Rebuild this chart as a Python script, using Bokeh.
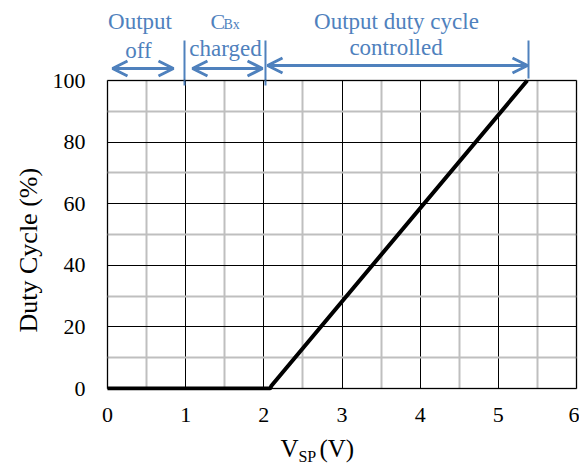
from bokeh.plotting import figure
from bokeh.layouts import column
from bokeh.models import Label, Arrow, OpenHead, FixedTicker, Range1d, BoxAnnotation, Title
from bokeh.embed import file_html
from bokeh.resources import INLINE

# ---------------- data ----------------
vsp = [0, 2.08, 2.1, 5.37]
duty = [0, 0, 1, 100]

x_ticks = [0, 1, 2, 3, 4, 5, 6]
x_minor = [0.5, 1.5, 2.5, 3.5, 4.5, 5.5]
y_ticks = [0, 20, 40, 60, 80, 100]
y_minor = [10, 30, 50, 70, 90]

# region annotations (V_SP positions)
region_start = [0.064, 1.087, 2.047]
region_end = [0.844, 1.983, 5.373]
boundaries = [0.985, 2.021, 5.386]

BLUE = "#4f81bd"
FONT = "Liberation Serif"

x_range = Range1d(-0.0256, 6.0255)

p = figure(width=579, height=430, output_backend="svg", toolbar_location=None,
           x_range=x_range, y_range=Range1d(-0.649, 125.974),
           min_border_left=105, min_border_right=1, min_border_top=0, min_border_bottom=40)

p.outline_line_color = None

for ax in (p.xaxis[0], p.yaxis[0]):
    ax.axis_line_color = None
    ax.major_tick_line_color = None
    ax.minor_tick_line_color = None
    ax.major_tick_in = 0
    ax.major_tick_out = 0
    ax.minor_tick_in = 0
    ax.minor_tick_out = 0
    ax.major_label_text_font = FONT
    ax.major_label_text_font_size = "22px"
    ax.major_label_text_color = "black"

p.xaxis.ticker = FixedTicker(ticks=x_ticks, minor_ticks=x_minor)
p.yaxis.ticker = FixedTicker(ticks=y_ticks, minor_ticks=y_minor)
p.yaxis.bounds = (0, 100)
p.xaxis.major_label_standoff = 17
p.yaxis.major_label_standoff = 20

p.add_layout(Title(text="Duty Cycle (%)", align="left", offset=58, text_font=FONT,
                   text_font_size="26px", text_font_style="normal", text_color="black",
                   standoff=14), "left")

p.xgrid.cross_bounds = (0, 100)
p.ygrid.cross_bounds = (0, 6)
for g in (p.xgrid[0], p.ygrid[0]):
    g.grid_line_color = "black"
    g.grid_line_width = 1
    g.minor_grid_line_color = "#bfbfbf"
    g.minor_grid_line_width = 2

p.add_layout(BoxAnnotation(left=0, right=6, bottom=0, top=100, fill_color=None,
                           line_color="black", line_width=2))

p.line(vsp, duty, line_color="black", line_width=4)

# region boundary lines
p.segment(x0=boundaries, y0=[98.4, 98.4, 100.65], x1=boundaries, y1=[113, 113, 113],
          line_color=BLUE, line_width=2)

arrow_y = [103.9, 103.9, 104.87]
for s, e, yy in zip(region_start, region_end, arrow_y):
    p.add_layout(Arrow(start=OpenHead(size=15, line_color=BLUE, line_width=3),
                       end=OpenHead(size=15, line_color=BLUE, line_width=3),
                       x_start=s, y_start=yy, x_end=e, y_end=yy,
                       line_color=BLUE, line_width=3))

def lab(fig, x, y, t, size="23px", align="center", color=BLUE):
    fig.add_layout(Label(x=x, y=y, text=t, text_font=FONT, text_font_size=size,
                         text_color=color, text_baseline="alphabetic", text_align=align))

lab(p, 0.416, 119.25, "Output")
lab(p, 0.397, 109.84, "off")
lab(p, 1.318, 119.16, "C", size="22px", align="left")
lab(p, 1.484, 118.28, "Bx", size="14px", align="left")
lab(p, 1.51, 110.49, "charged")
lab(p, 3.697, 119.25, "Output duty cycle")
lab(p, 3.691, 110.65, "controlled")

# bottom strip for the x-axis label with subscript
s = figure(width=579, height=35, output_backend="svg", toolbar_location=None,
           x_range=x_range, y_range=Range1d(0, 35),
           min_border_left=105, min_border_right=1, min_border_top=0, min_border_bottom=0,
           x_axis_location=None, y_axis_location=None)
s.outline_line_color = None
s.grid.visible = False
lab(s, 2.213, 17.5, "V", size="25px", align="left", color="black")
lab(s, 2.443, 9.4, "SP", size="16px", align="left", color="black")
lab(s, 2.712, 17.5, "(V)", size="25px", align="left", color="black")

layout = column(p, s, spacing=0)
open("out.html", "w").write(file_html(layout, INLINE))
